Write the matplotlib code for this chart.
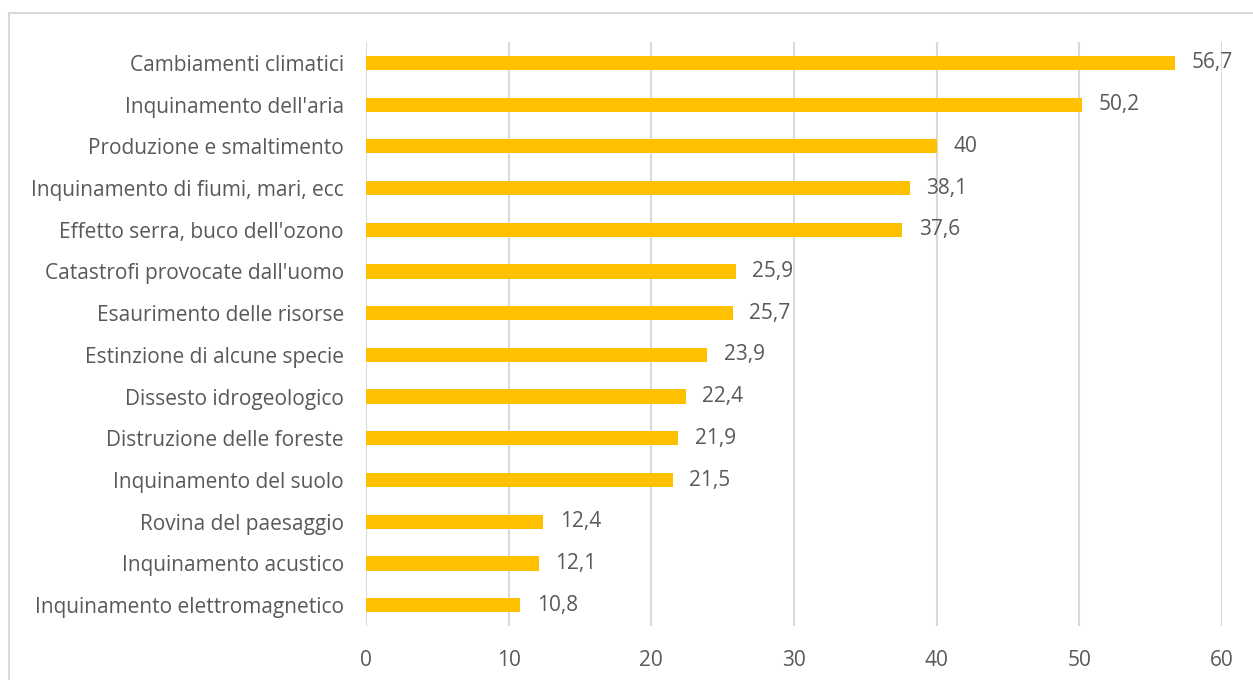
import numpy as np
import matplotlib.pyplot as plt
from matplotlib.patches import Rectangle

categories = [
    "Cambiamenti climatici",
    "Inquinamento dell'aria",
    "Produzione e smaltimento",
    "Inquinamento di fiumi, mari, ecc",
    "Effetto serra, buco dell'ozono",
    "Catastrofi provocate dall'uomo",
    "Esaurimento delle risorse",
    "Estinzione di alcune specie",
    "Dissesto idrogeologico",
    "Distruzione delle foreste",
    "Inquinamento del suolo",
    "Rovina del paesaggio",
    "Inquinamento acustico",
    "Inquinamento elettromagnetico",
]
values = [56.7, 50.2, 40, 38.1, 37.6, 25.9, 25.7, 23.9, 22.4, 21.9, 21.5, 12.4, 12.1, 10.8]
xticks = [0, 10, 20, 30, 40, 50, 60]

plt.rcParams['font.family'] = ['Open Sans', 'DejaVu Sans']
txt = '#595959'
grid = '#D9D9D9'
fs = 15

fig = plt.figure(figsize=(12.53, 6.8), dpi=100)
ax = fig.add_axes([0.2921, 0.0794, 0.6832, 0.8588])

# chart border
fig.patches.append(Rectangle((9 / 1253, -0.1), 1.1, 1 - 13 / 680 + 0.1,
                             transform=fig.transFigure, fill=False,
                             edgecolor=grid, linewidth=1.5))

ind = np.arange(len(categories))
ax.barh(ind, values, height=0.34, color='#FFC000', zorder=3)
for i, v in zip(ind, values):
    ax.annotate(f"{v:g}".replace('.', ','), (v, i), xytext=(12, 0),
                textcoords='offset points', va='center', ha='left',
                fontsize=fs, color=txt)

ax.set_ylim(len(categories) - 0.5, -0.5)
ax.set_xlim(0, 60)
ax.set_yticks(ind)
ax.set_yticklabels(categories, fontsize=fs, color=txt)
ax.set_xticks(xticks)
ax.set_xticklabels([str(t) for t in xticks], fontsize=fs, color=txt)
ax.tick_params(axis='both', length=0)
ax.tick_params(axis='y', pad=16)
ax.tick_params(axis='x', pad=17)
ax.grid(axis='x', color=grid, linewidth=1.5, zorder=0)
for s in ax.spines.values():
    s.set_visible(False)

plt.savefig('out.png', dpi=100)
